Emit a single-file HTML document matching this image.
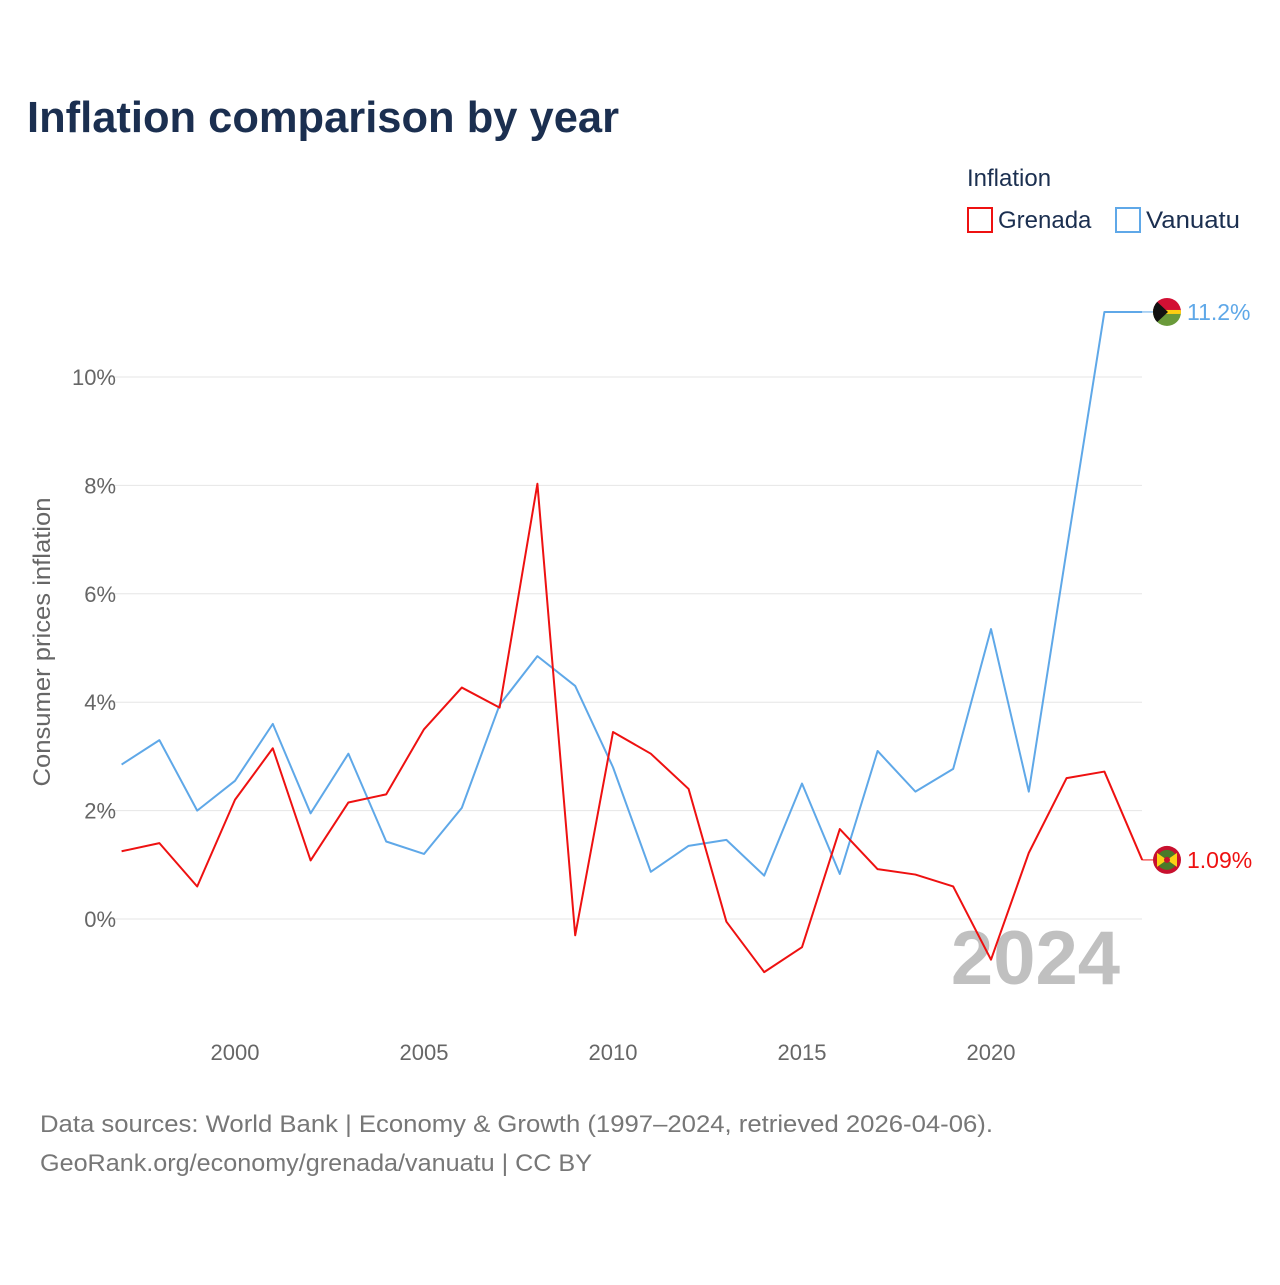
<!DOCTYPE html>
<html><head><meta charset="utf-8"><style>
body{margin:0;background:#fff;font-family:"Liberation Sans",sans-serif}
svg text{font-family:"Liberation Sans",sans-serif}
</style></head><body>
<svg id="c" width="1280" height="1280" viewBox="0 0 1280 1280">
<text x="27" y="132" font-size="44" font-weight="bold" fill="#1b2f50" textLength="592" lengthAdjust="spacingAndGlyphs">Inflation comparison by year</text>
<text x="967" y="186" font-size="24" fill="#1b2f50">Inflation</text>
<g><rect x="968" y="208" width="24" height="24" fill="none" stroke="#ee1111" stroke-width="2"/><text x="998" y="228" font-size="24" fill="#1b2f50">Grenada</text></g>
<g><rect x="1116" y="208" width="24" height="24" fill="none" stroke="#5fa8e8" stroke-width="2"/><text x="1146" y="228" font-size="24" fill="#1b2f50" textLength="94" lengthAdjust="spacingAndGlyphs">Vanuatu</text></g>
<text transform="translate(50,642) rotate(-90)" text-anchor="middle" font-size="24" fill="#666" textLength="289" lengthAdjust="spacingAndGlyphs">Consumer prices inflation</text>
<g id="grid"></g><g id="yt"></g><g id="xt"></g>
<text x="1120" y="984" text-anchor="end" font-size="76" font-weight="bold" fill="#c0c0c0">2024</text>
<g id="lines"></g>
<text x="40" y="1132" font-size="24" fill="#777" textLength="953" lengthAdjust="spacingAndGlyphs">Data sources: World Bank | Economy &amp; Growth (1997–2024, retrieved 2026-04-06).</text>
<text x="40" y="1171" font-size="24" fill="#777" textLength="552" lengthAdjust="spacingAndGlyphs">GeoRank.org/economy/grenada/vanuatu | CC BY</text>
</svg>
<script>
const years=[1997,1998,1999,2000,2001,2002,2003,2004,2005,2006,2007,2008,2009,2010,2011,2012,2013,2014,2015,2016,2017,2018,2019,2020,2021,2022,2023,2024];
const grenada=[1.25,1.4,0.6,2.2,3.15,1.08,2.15,2.3,3.5,4.27,3.9,8.03,-0.3,3.45,3.05,2.4,-0.05,-0.98,-0.52,1.66,0.92,0.82,0.6,-0.75,1.22,2.6,2.72,1.09];
const vanuatu=[2.85,3.3,2.0,2.55,3.6,1.95,3.05,1.43,1.2,2.05,3.95,4.85,4.3,2.8,0.87,1.35,1.46,0.8,2.5,0.83,3.1,2.35,2.77,5.35,2.35,6.8,11.2,11.2];
const yTicks=[0,2,4,6,8,10];
const xTicks=[2000,2005,2010,2015,2020];
const X=y=>121.6+(y-1997)*37.8, Y=v=>919-v*54.2;
const NS="http://www.w3.org/2000/svg";
function mk(t,a,p){const e=document.createElementNS(NS,t);for(const k in a)e.setAttribute(k,a[k]);p.appendChild(e);return e;}
const g=document.getElementById('grid'),yt=document.getElementById('yt'),xt=document.getElementById('xt'),L=document.getElementById('lines');
yTicks.forEach(v=>{const l=mk('line',{x1:110,x2:1142,y1:Y(v),y2:Y(v),stroke:'#e6e6e6','stroke-width':1},g);


const t=mk('text',{x:116,y:Y(v)+8,'text-anchor':'end','font-size':22,fill:'#666'},yt);t.textContent=v+'%';

});
xTicks.forEach(v=>{const t=mk('text',{x:X(v),y:1060,'text-anchor':'middle','font-size':22,fill:'#666'},xt);t.textContent=v;

});
function series(data,col,name,label,flag){
const p=mk('polyline',{points:data.map((v,i)=>X(years[i])+','+Y(v)).join(' '),fill:'none',stroke:col,'stroke-width':2,'stroke-linejoin':'round'},L);


const last=data[data.length-1],ly=Y(last),lx=X(years[years.length-1]);
const c=mk('line',{x1:lx,x2:1153,y1:ly,y2:ly,stroke:col,'stroke-width':1},L);


const fg=mk('g',{},L);


flag(fg,1167,ly);
const t=mk('text',{x:1187,y:ly+8,'font-size':23,fill:col},L);t.textContent=label;

}
series(vanuatu,'#5fa8e8','vanuatu','11.2%',(p,x,y)=>{
mk('clipPath',{id:'cv'},p).appendChild(document.createElementNS(NS,'circle')).setAttribute('r',14);
const gg=mk('g',{transform:`translate(${x},${y})`,'clip-path':'url(#cv)'},p);
mk('rect',{x:-14,y:-14,width:28,height:14,fill:'#d21034'},gg);mk('rect',{x:-14,y:0,width:28,height:14,fill:'#6a9a3a'},gg);
mk('rect',{x:-14,y:-2,width:28,height:4,fill:'#fdce12'},gg);mk('polygon',{points:'-14,-14 1,0 -14,14',fill:'#111'},gg);});
series(grenada,'#ee1111','grenada','1.09%',(p,x,y)=>{
const gg=mk('g',{transform:`translate(${x},${y})`},p);
mk('circle',{r:14,fill:'#c8102e'},gg);mk('circle',{r:10,fill:'#4a7a2a'},gg);mk('polygon',{points:'-10,-7 10,7 10,-7 -10,7',fill:'#fcd116'},gg);mk('circle',{r:3,fill:'#c8102e'},gg);});
</script>
</body></html>
